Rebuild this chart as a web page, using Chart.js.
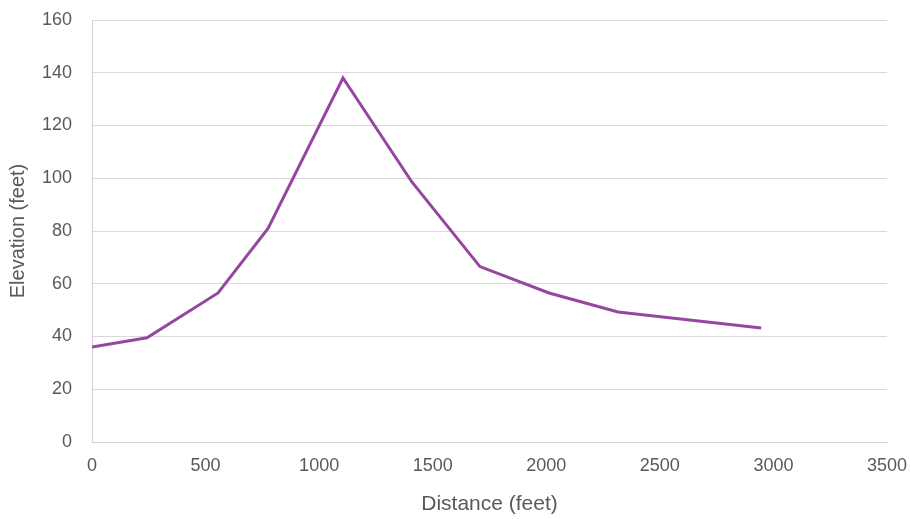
<!DOCTYPE html>
<html lang="en">
<head>
  <meta charset="UTF-8" />
  <title>Elevation profile</title>
  <script src="https://cdn.jsdelivr.net/npm/chart.js"></script>
  <style>
    html, body { margin: 0; padding: 0; background: #fff; }
    .wrap { width: 910px; height: 519px; position: relative; }
  </style>
</head>
<body>
  <div class="wrap">
    <canvas id="chart-profile"></canvas>
  </div>
  <script>
    // datos
    const distances = [0, 242, 555, 775, 1105, 1409, 1708, 2012, 2316, 2946];
    const elevations = [36, 39.5, 56.5, 81, 138, 98.5, 66.5, 56.5, 49.3, 43.2];
    const xTitle = "Distance (feet)";
    const yTitle = "Elevation (feet)";

    const gray = "#595959";
    const fam = "'Liberation Sans', Arial, sans-serif";
    const tickFont = { family: fam, size: 18 };
    const titleFont = { family: fam, size: 20 };

    const ctx = document.getElementById("chart-profile").getContext("2d");
    new Chart(ctx, {
      type: "line",
      data: {
        datasets: [{
          data: distances.map((d, i) => ({ x: d, y: elevations[i] })),
          borderColor: "#9547A0",
          borderWidth: 3,
          pointRadius: 0,
          tension: 0,
          fill: false
        }]
      },
      options: {
        responsive: true,
        maintainAspectRatio: false,
        animation: false,
        layout: { padding: { top: 20, right: 23, left: 0, bottom: 0 } },
        plugins: { legend: { display: false }, tooltip: { enabled: false } },
        scales: {
          x: {
            type: "linear",
            min: 0,
            max: 3500,
            afterFit: s => { s.height = 77; s.paddingLeft = 0; s.paddingRight = 0; },
            ticks: { stepSize: 500, color: gray, font: tickFont, padding: 13, maxRotation: 0,
                     callback: v => String(v) },
            grid: { display: false, drawTicks: false },
            border: { color: "#d0d0d0", width: 1 },
            title: { display: true, text: xTitle, color: gray, font: { family: fam, size: 21 }, padding: { top: 0, bottom: 2 } }
          },
          y: {
            min: 0,
            max: 160,
            afterFit: s => { s.width = 92; s.paddingTop = 0; s.paddingBottom = 0; },
            ticks: { stepSize: 20, color: gray, font: tickFont, padding: 20 },
            grid: { color: "#d9d9d9", drawTicks: false },
            border: { color: "#d0d0d0", width: 1 },
            title: { display: true, text: yTitle, color: gray, font: titleFont, padding: { top: 6, bottom: 0 } }
          }
        }
      }
    });
  </script>
</body>
</html>
